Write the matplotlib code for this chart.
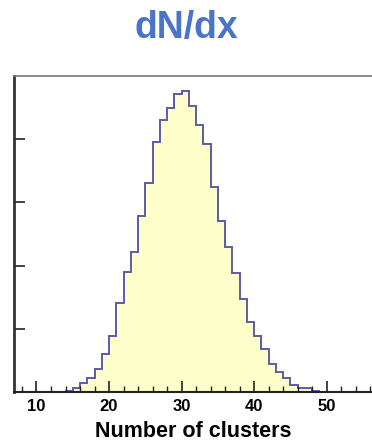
import matplotlib
matplotlib.use("Agg")
import matplotlib.pyplot as plt
from matplotlib.ticker import MultipleLocator

# histogram of number of clusters (heights in arbitrary units)
bin_edges = list(range(14, 50))
counts = [0.01, 0.07, 0.14, 0.22, 0.36, 0.60, 0.88, 1.41, 1.90, 2.22,
          2.79, 3.31, 3.96, 4.31, 4.50, 4.71, 4.76, 4.53, 4.23, 3.93,
          3.25, 2.70, 2.29, 1.89, 1.47, 1.10, 0.88, 0.68, 0.44, 0.31,
          0.22, 0.11, 0.06, 0.06, 0.015]
x_ticks = [10, 20, 30, 40, 50]


def main():
    plt.rcParams["font.family"] = ["Liberation Sans", "DejaVu Sans"]
    fig = plt.figure(figsize=(3.72, 4.41), dpi=100)
    ax = fig.add_axes([14 / 372, 49 / 441, 1 - 14 / 372, 316 / 441])

    ax.stairs(counts, bin_edges, fill=True, color="#ffffcc")
    ax.stairs(counts, bin_edges, color="#5c5ca8", linewidth=1.4)

    ax.set_xlim(6.9, 56.25)
    ax.set_ylim(0, 5)
    ax.set_xticks(x_ticks)
    ax.xaxis.set_minor_locator(MultipleLocator(2))
    ax.set_yticks([1, 2, 3, 4])
    ax.set_yticklabels([])
    ax.tick_params(axis="both", which="major", direction="in", length=8,
                   width=1.2, color="#222222")
    ax.tick_params(axis="x", which="minor", direction="in", length=4,
                   width=1.0, color="#222222")
    ax.tick_params(axis="x", labelsize=12, pad=5)
    for lab in ax.get_xticklabels():
        lab.set_fontweight("bold")

    ax.spines["right"].set_visible(False)
    ax.spines["top"].set_color("#777777")
    ax.spines["top"].set_linewidth(1.2)
    ax.spines["left"].set_color("#333333")
    ax.spines["left"].set_linewidth(2)
    ax.spines["bottom"].set_color("#222222")
    ax.spines["bottom"].set_linewidth(1.5)

    ax.set_xlabel("Number of clusters", fontsize=15.5, fontweight="bold",
                  labelpad=5)
    fig.text(0.5, 1 - 28 / 441, "dN/dx", ha="center", va="center",
             fontsize=27, fontweight="bold", color="#4a74c8")

    fig.savefig("out.png", dpi=100)


if __name__ == "__main__":
    main()
